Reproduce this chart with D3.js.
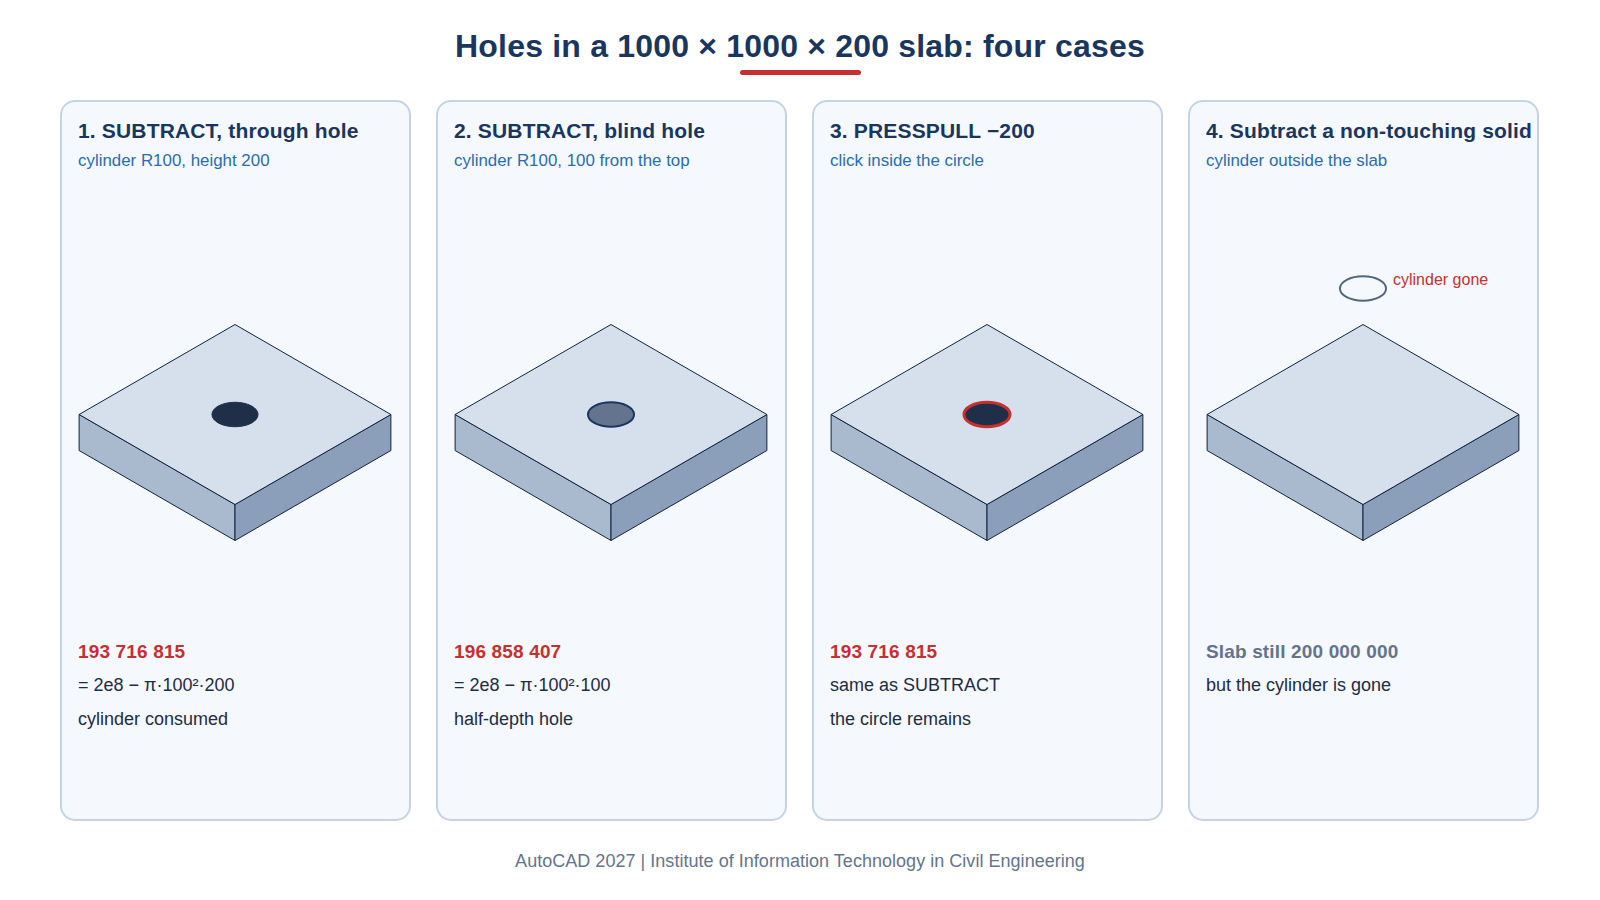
<!DOCTYPE html>
<html>
<head>
<meta charset="utf-8">
<script src="https://cdn.jsdelivr.net/npm/d3@7"></script>
<style>
  html, body { margin: 0; padding: 0; background: #fff; }
  text { font-family: "Liberation Sans", Arial, sans-serif; }
</style>
</head>
<body>
<div id="chart"></div>
<script>
const width = 1600;
const height = 900;

// Chart content
const chartTitle = "Holes in a 1000 × 1000 × 200 slab: four cases";
const footerText = "AutoCAD 2027 | Institute of Information Technology in Civil Engineering";
const cardTitles = ["1. SUBTRACT, through hole", "2. SUBTRACT, blind hole", "3. PRESSPULL −200", "4. Subtract a non-touching solid"];
const cardSubtitles = ["cylinder R100, height 200", "cylinder R100, 100 from the top", "click inside the circle", "cylinder outside the slab"];
const cardResults = ["193 716 815", "196 858 407", "193 716 815", "Slab still 200 000 000"];
const cardLine1 = ["= 2e8 − π·100²·200", "= 2e8 − π·100²·100", "same as SUBTRACT", "but the cylinder is gone"];
const cardLine2 = ["cylinder consumed", "half-depth hole", "the circle remains", ""];
const holeTypes = ["through", "blind", "presspull", "gone"];

// Slab dimensions in drawing units
const slabSize = [1000, 1000];
const slabHeight = 200;
const holeRadius = 100;

const colors = {
  title: "#1a365d", sub: "#2b6cb0", red: "#c53030", grey: "#64748b", text: "#1e2d42",
  cardFill: "#f5f8fc", cardStroke: "#c8d3e0",
  top: "#d6e0ec", left: "#a9bacf", right: "#8c9fba", edge: "#12233c",
  hole: "#1f2f4a", blind: "#64748f", ghost: "#54677a"
};

const svg = d3.select("#chart")
    .append("svg")
    .attr("width", width)
    .attr("height", height);

// Title and its underline
svg.append("text")
    .attr("x", width / 2)
    .attr("y", 57)
    .attr("text-anchor", "middle")
    .attr("font-size", 32)
    .attr("font-weight", "bold")
    .attr("letter-spacing", 0.19)
    .attr("fill", colors.title)
    .text(chartTitle);

svg.append("rect")
    .attr("x", 740)
    .attr("y", 70)
    .attr("width", 121)
    .attr("height", 5)
    .attr("rx", 2.5)
    .attr("fill", colors.red);

svg.append("text")
    .attr("x", width / 2)
    .attr("y", 867)
    .attr("text-anchor", "middle")
    .attr("font-size", 18)
    .attr("letter-spacing", 0.03)
    .attr("fill", colors.grey)
    .text(footerText);

// Cards sit on a band scale
const cardX = d3.scaleBand()
    .domain(d3.range(cardTitles.length))
    .range([61, 1538])
    .paddingInner(27 / 376)
    .paddingOuter(0);
const cardW = cardX.bandwidth();

// Isometric projection, 0.18 px per drawing unit
const unit = d3.scaleLinear().domain([0, 1000]).range([0, 180]);
const cos30 = Math.cos(Math.PI / 6);

function iso(px, py, z) {
    return [(unit(px) - unit(py)) * cos30, (unit(px) + unit(py)) * 0.5 - unit(z)];
}

const poly = d3.line().curve(d3.curveLinearClosed);

function drawSlab(g) {
    const [a, b] = slabSize;
    const ox = -a / 2, oy = -b / 2;
    const x1 = ox + a, y1 = oy + b;
    const faces = [
        {fill: colors.left, pts: [iso(ox, y1, 0), iso(x1, y1, 0), iso(x1, y1, -slabHeight), iso(ox, y1, -slabHeight)]},
        {fill: colors.right, pts: [iso(x1, oy, 0), iso(x1, y1, 0), iso(x1, y1, -slabHeight), iso(x1, oy, -slabHeight)]},
        {fill: colors.top, pts: [iso(ox, oy, 0), iso(x1, oy, 0), iso(x1, y1, 0), iso(ox, y1, 0)]}
    ];
    g.selectAll("path.face")
        .data(faces)
        .enter()
        .append("path")
        .attr("class", "face")
        .attr("d", d => poly(d.pts))
        .attr("fill", d => d.fill)
        .attr("stroke", colors.edge)
        .attr("stroke-width", 1)
        .attr("stroke-linejoin", "round");
}

// Hole style per case
const holeStyle = {
    through: {fill: colors.hole, stroke: colors.hole, sw: 1},
    blind: {fill: colors.blind, stroke: colors.title, sw: 2},
    presspull: {fill: colors.hole, stroke: colors.red, sw: 3},
    gone: {fill: "none", stroke: colors.ghost, sw: 2}
};

const cards = svg.selectAll("g.card")
    .data(cardTitles)
    .enter()
    .append("g")
    .attr("class", "card")
    .attr("transform", (d, i) => `translate(${cardX(i)},101)`);

cards.append("rect")
    .attr("width", cardW)
    .attr("height", 719)
    .attr("rx", 14)
    .attr("fill", colors.cardFill)
    .attr("stroke", colors.cardStroke)
    .attr("stroke-width", 2);

cards.append("text")
    .attr("x", 17)
    .attr("y", 37)
    .attr("font-size", 21)
    .attr("font-weight", "bold")
    .attr("letter-spacing", 0.16)
    .attr("fill", colors.title)
    .text(d => d);

cards.append("text")
    .attr("x", 17)
    .attr("y", 65)
    .attr("font-size", 16.9)
    .attr("fill", colors.sub)
    .text((d, i) => cardSubtitles[i]);

cards.append("text")
    .attr("x", 17)
    .attr("y", 557)
    .attr("font-size", 19)
    .attr("font-weight", "bold")
    .attr("letter-spacing", 0.15)
    .attr("fill", (d, i) => holeTypes[i] === "gone" ? colors.grey : colors.red)
    .text((d, i) => cardResults[i]);

cards.append("text")
    .attr("x", 17)
    .attr("y", 590)
    .attr("font-size", 18)
    .attr("fill", colors.text)
    .text((d, i) => cardLine1[i]);

cards.append("text")
    .attr("x", 17)
    .attr("y", 624)
    .attr("font-size", 18)
    .attr("fill", colors.text)
    .text((d, i) => cardLine2[i]);

cards.each(function(d, i) {
    const slab = d3.select(this).append("g")
        .attr("transform", `translate(${cardW / 2 - 0.5},313.5)`);
    drawSlab(slab);

    const type = holeTypes[i];
    const s = holeStyle[type];
    const rx = unit(holeRadius) * 1.28;
    const ry = unit(holeRadius) * 0.68;
    slab.append("ellipse")
        .attr("cy", type === "gone" ? -126 : 0)
        .attr("rx", rx)
        .attr("ry", ry)
        .attr("fill", s.fill)
        .attr("stroke", s.stroke)
        .attr("stroke-width", s.sw);

    if (type === "gone") {
        slab.append("text")
            .attr("x", 30)
            .attr("y", -130)
            .attr("font-size", 16)
            .attr("fill", colors.red)
            .text("cylinder gone");
    }
});
</script>
</body>
</html>
